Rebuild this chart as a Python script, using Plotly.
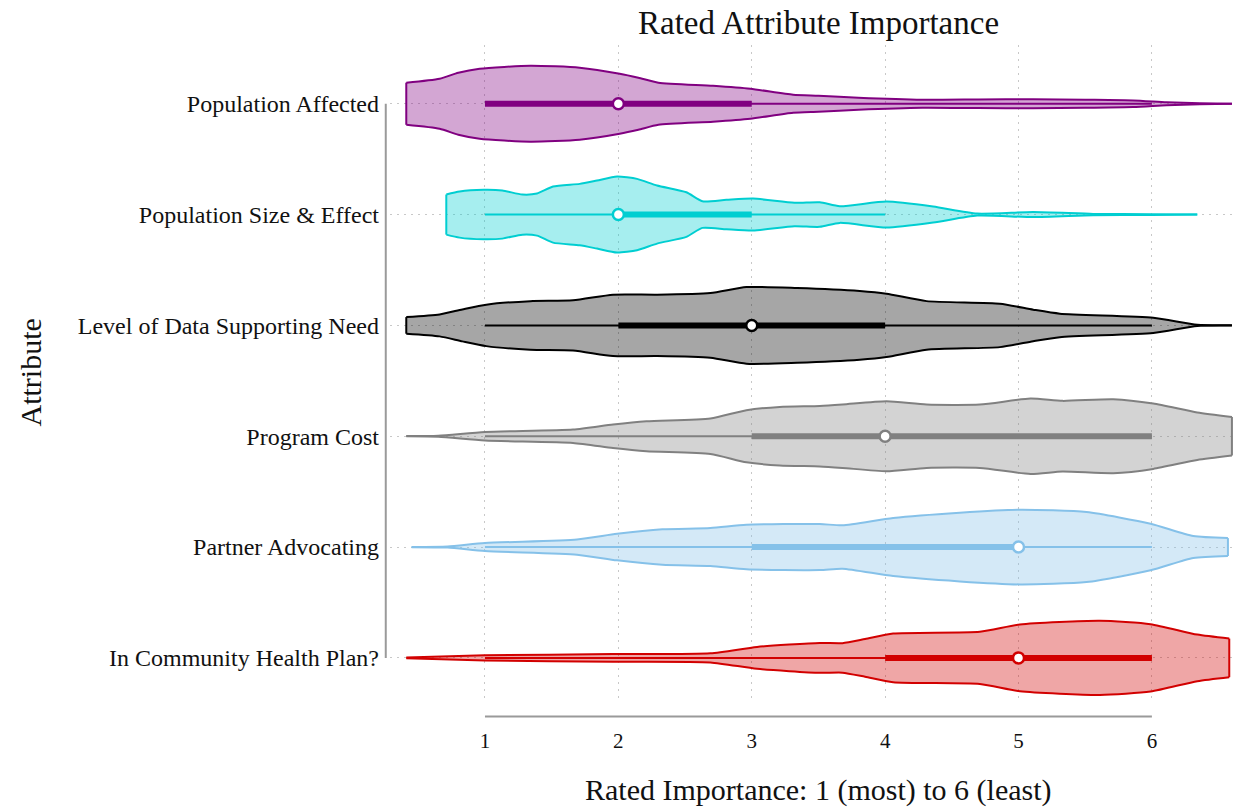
import plotly.graph_objects as go

# Attributes, listed top to bottom
ATTRIBUTES = [
    "Population Affected",
    "Population Size & Effect",
    "Level of Data Supporting Need",
    "Program Cost",
    "Partner Advocating",
    "In Community Health Plan?",
]
X_TICKS = [1, 2, 3, 4, 5, 6]

# Density outlines: rating value and half-width (in category units)
pa_x = [0.41, 0.66, 0.80, 0.96, 1.34, 1.71, 2.01, 2.15, 2.30, 2.71, 2.99, 3.31, 3.50, 3.80, 4.28, 4.70, 5.11, 5.50, 5.86, 6.11, 6.36, 6.60]
pa_w = [0.190, 0.226, 0.280, 0.316, 0.343, 0.325, 0.271, 0.235, 0.190, 0.162, 0.135, 0.081, 0.072, 0.054, 0.036, 0.039, 0.041, 0.036, 0.030, 0.014, 0.005, 0.001]

pse_x = [0.71, 0.81, 0.99, 1.13, 1.28, 1.39, 1.51, 1.71, 1.84, 1.99, 2.14, 2.29, 2.51, 2.63, 2.81, 3.01, 3.32, 3.51, 3.66, 4.01, 4.36, 4.69, 5.11, 5.56, 6.00, 6.34]
pse_w = [0.181, 0.208, 0.223, 0.217, 0.181, 0.190, 0.253, 0.277, 0.307, 0.343, 0.322, 0.262, 0.201, 0.120, 0.133, 0.144, 0.106, 0.111, 0.075, 0.117, 0.072, 0.009, 0.023, 0.006, 0.003, 0.0]

lds_x = [0.41, 0.66, 0.83, 1.01, 1.34, 1.66, 1.96, 2.29, 2.69, 2.96, 3.34, 3.81, 4.01, 4.31, 4.86, 5.11, 5.31, 6.01, 6.34, 6.60]
lds_w = [0.075, 0.099, 0.144, 0.187, 0.219, 0.226, 0.277, 0.277, 0.292, 0.346, 0.337, 0.310, 0.286, 0.219, 0.196, 0.142, 0.106, 0.069, 0.005, 0.001]

pc_x = [0.41, 0.65, 1.00, 1.66, 1.96, 2.21, 2.69, 2.96, 3.21, 3.51, 3.68, 4.01, 4.31, 4.71, 5.09, 5.33, 5.71, 6.01, 6.34, 6.60]
pc_w = [0.001, 0.005, 0.039, 0.060, 0.106, 0.135, 0.160, 0.235, 0.264, 0.273, 0.286, 0.316, 0.286, 0.286, 0.340, 0.319, 0.334, 0.295, 0.214, 0.174]

pad_x = [0.45, 0.72, 1.00, 1.69, 1.99, 2.33, 2.69, 2.96, 3.51, 3.68, 4.06, 4.56, 5.01, 5.51, 5.99, 6.31, 6.57]
pad_w = [0.001, 0.005, 0.036, 0.069, 0.120, 0.160, 0.171, 0.201, 0.208, 0.196, 0.262, 0.310, 0.337, 0.316, 0.210, 0.099, 0.081]

chp_x = [0.41, 1.00, 1.96, 2.69, 3.04, 3.51, 3.68, 3.85, 4.06, 4.71, 5.01, 5.61, 5.99, 6.34, 6.58]
chp_w = [0.003, 0.023, 0.034, 0.041, 0.099, 0.135, 0.133, 0.170, 0.219, 0.235, 0.301, 0.334, 0.304, 0.210, 0.174]

# Box summaries: whisker low, Q1, median, Q3, whisker high
pa_box = [1, 1, 2, 3, 6]
pse_box = [1, 2, 2, 3, 4]
lds_box = [1, 2, 3, 4, 6]
pc_box = [1, 3, 4, 6, 6]
pad_box = [1, 3, 5, 5, 6]
chp_box = [1, 4, 5, 6, 6]

LINE_COLORS = ["#800080", "#00CED1", "#000000", "#808080", "#85C1E9", "#D20000"]
FILL_COLORS = [
    "rgba(128,0,128,0.35)",
    "rgba(0,206,209,0.35)",
    "rgba(0,0,0,0.35)",
    "rgba(128,128,128,0.35)",
    "rgba(133,193,233,0.35)",
    "rgba(210,0,0,0.35)",
]

profiles = [(pa_x, pa_w), (pse_x, pse_w), (lds_x, lds_w), (pc_x, pc_w), (pad_x, pad_w), (chp_x, chp_w)]
boxes = [pa_box, pse_box, lds_box, pc_box, pad_box, chp_box]

SERIF = "Liberation Serif, Times New Roman, serif"
n = len(ATTRIBUTES)
fig = go.Figure()

for i, name in enumerate(ATTRIBUTES):
    yc = n - 1 - i
    xs, ws = profiles[i]
    # upper edge left->right, lower edge right->left, then back to start
    upper_x, upper_y = list(xs), [yc + w for w in ws]
    lower_x, lower_y = list(reversed(xs)), [yc - w for w in reversed(ws)]
    fig.add_trace(go.Scatter(
        x=upper_x + lower_x + [xs[0]], y=upper_y + lower_y + [yc + ws[0]],
        mode="lines", fill="toself", fillcolor=FILL_COLORS[i], line=dict(width=0),
        hoverinfo="skip", showlegend=False, name=name,
    ))
    for ex, ey in ((upper_x, upper_y), (lower_x, lower_y)):
        fig.add_trace(go.Scatter(
            x=ex, y=ey, mode="lines",
            line=dict(color=LINE_COLORS[i], width=2, shape="spline", smoothing=0.6),
            hoverinfo="skip", showlegend=False,
        ))
    # flat ends where the density is cut off
    for k in (0, -1):
        if ws[k] > 0.01:
            fig.add_trace(go.Scatter(
                x=[xs[k], xs[k]], y=[yc - ws[k], yc + ws[k]], mode="lines",
                line=dict(color=LINE_COLORS[i], width=2), hoverinfo="skip", showlegend=False,
            ))
    lo, q1, med, q3, hi = boxes[i]
    # whiskers
    fig.add_trace(go.Scatter(
        x=[lo, hi], y=[yc, yc], mode="lines",
        line=dict(color=LINE_COLORS[i], width=2), hoverinfo="skip", showlegend=False,
    ))
    # interquartile box
    fig.add_trace(go.Scatter(
        x=[q1, q3], y=[yc, yc], mode="lines",
        line=dict(color=LINE_COLORS[i], width=6), hoverinfo="skip", showlegend=False,
    ))
    # median
    fig.add_trace(go.Scatter(
        x=[med], y=[yc], mode="markers",
        marker=dict(size=11, color="white", line=dict(color=LINE_COLORS[i], width=2.5)),
        showlegend=False, name=name,
    ))

# Range-frame axis lines
fig.add_shape(type="line", xref="x", yref="paper", x0=X_TICKS[0], x1=X_TICKS[-1], y0=-0.025, y1=-0.025,
              line=dict(color="#9a9a9a", width=2))
fig.add_shape(type="line", xref="paper", yref="y", x0=-0.005, x1=-0.005, y0=0, y1=n - 1,
              line=dict(color="#9a9a9a", width=2))

fig.update_layout(
    width=1237, height=807,
    margin=dict(l=390, r=0, t=45, b=107),
    plot_bgcolor="white", paper_bgcolor="white",
    font=dict(family=SERIF, color="#111111"),
    xaxis=dict(
        range=[0.288, 6.638], tickvals=X_TICKS, ticks="", showline=False, zeroline=False,
        showgrid=True, gridcolor="#c8c8c8", griddash="2px,5px", gridwidth=1,
        tickfont=dict(size=21, family=SERIF), ticklabelstandoff=26,
    ),
    yaxis=dict(
        range=[-0.38, 5.53], tickvals=list(range(n)), ticktext=list(reversed(ATTRIBUTES)),
        ticks="", showline=False, zeroline=False,
        showgrid=True, gridcolor="#c8c8c8", griddash="2px,5px", gridwidth=1,
        tickfont=dict(size=24, family=SERIF), ticklabelstandoff=10,
    ),
    annotations=[
        dict(text="Rated Attribute Importance", xref="x", yref="paper", x=3.5, y=1.0, yshift=22,
             showarrow=False, font=dict(size=33, family=SERIF), yanchor="middle"),
        dict(text="Rated Importance: 1 (most) to 6 (least)", xref="x", yref="paper", x=3.5, y=0, yshift=-90,
             showarrow=False, font=dict(size=30, family=SERIF), yanchor="middle"),
        dict(text="Attribute", xref="paper", yref="paper", x=0, xshift=-360, y=0.5, textangle=-90,
             showarrow=False, font=dict(size=30, family=SERIF), xanchor="center", yanchor="middle"),
    ],
)

fig.write_html("out.html")
